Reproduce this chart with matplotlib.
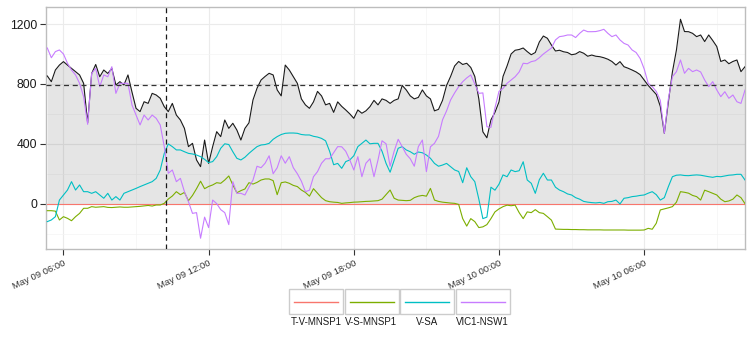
import numpy as np
import pandas as pd
import matplotlib
matplotlib.use("Agg")
import matplotlib.pyplot as plt
import matplotlib.dates as mdates
from matplotlib.patches import Rectangle

plt.rcParams['font.family'] = ['Liberation Sans', 'DejaVu Sans']

# 10 minute readings, May 09 05:20 -> May 10 10:10
times = pd.date_range("2016-05-09 05:20", periods=174, freq="10min")

total = [853, 815, 893, 926, 949, 926, 904, 882, 860, 804,
         540, 870, 930, 848, 893, 870, 904, 793, 815, 793,
         860, 745, 637, 615, 681, 670, 737, 726, 704, 648,
         615, 670, 592, 559, 503, 381, 403, 292, 247, 425,
         269, 381, 481, 448, 559, 503, 537, 492, 425, 503,
         540, 693, 771, 826, 850, 871, 860, 760, 720, 926,
         893, 848, 804, 700, 660, 637, 680, 750, 720, 660,
         670, 610, 680, 650, 626, 600, 570, 626, 604, 620,
         648, 690, 660, 700, 690, 670, 690, 700, 790, 760,
         720, 700, 710, 760, 720, 700, 620, 630, 690, 790,
         850, 920, 950, 930, 938, 910, 850, 700, 480, 440,
         560, 610, 680, 850, 920, 1000, 1025, 1030, 1040, 1016,
         995, 1010, 1080, 1120, 1105, 1060, 1020, 1025, 1015, 1010,
         995, 1000, 1016, 1005, 985, 993, 985, 982, 975, 965,
         950, 926, 949, 915, 905, 893, 880, 862, 826, 790,
         760, 730, 650, 470, 680, 880, 1027, 1232, 1150, 1149,
         1138, 1116, 1127, 1083, 1127, 1090, 1050, 950, 960, 935,
         950, 960, 882, 915]

tv_mnsp1 = [0] * 174

vs_mnsp1 = [-47, -47, -50, -109, -87, -98, -114, -87, -65, -31,
            -31, -20, -24, -22, -20, -25, -26, -24, -22, -24,
            -24, -22, -20, -18, -15, -12, -16, -9, -9, 2,
            31, 51, 80, 60, 75, 20, 55, 100, 150, 100,
            115, 125, 140, 136, 158, 185, 125, 73, 87, 98,
            140, 131, 142, 158, 165, 165, 154, 60, 140, 145,
            136, 122, 114, 91, 75, 50, 100, 70, 40, 20,
            13, 10, 8, 2, 5, 7, 10, 11, 13, 15,
            16, 18, 20, 30, 60, 91, 36, 24, 22, 20,
            22, 40, 50, 55, 50, 102, 24, 15, 10, 7,
            4, 2, -5, -100, -150, -100, -120, -160, -155, -140,
            -100, -55, -35, -20, -10, -14, -10, -60, -100, -55,
            -60, -40, -60, -65, -87, -110, -170, -171, -172, -172,
            -173, -173, -174, -174, -175, -175, -175, -175, -176, -176,
            -176, -176, -176, -176, -177, -177, -177, -177, -176, -165,
            -171, -131, -42, -35, -28, -20, 10, 80, 76, 70,
            55, 47, 24, 90, 80, 69, 58, 30, 13, 18,
            30, 58, 40, 0]

v_sa = [-120, -109, -87, 24, 58, 91, 147, 91, 125, 80,
        80, 69, 80, 58, 36, 69, 24, 47, 24, 69,
        80, 91, 102, 114, 125, 136, 147, 169, 225, 336,
        399, 381, 359, 359, 347, 336, 332, 325, 314, 296,
        274, 281, 314, 370, 400, 395, 347, 303, 292, 310,
        336, 359, 381, 392, 395, 403, 430, 448, 462, 470,
        472, 472, 470, 462, 459, 459, 450, 445, 436, 420,
        350, 260, 269, 236, 281, 292, 320, 381, 403, 425,
        400, 403, 403, 350, 269, 210, 290, 370, 381, 359,
        347, 330, 345, 340, 325, 303, 269, 250, 258, 269,
        247, 225, 215, 140, 240, 180, 147, 30, -100, -90,
        110, 90, 130, 192, 180, 225, 214, 220, 280, 158,
        136, 69, 160, 203, 158, 158, 110, 91, 80, 65,
        58, 40, 30, 15, 10, 7, 5, 8, 2, 13,
        15, 24, -2, 36, 40, 47, 50, 55, 58, 70,
        80, 60, 24, 40, 114, 180, 190, 192, 188, 187,
        190, 192, 190, 185, 180, 176, 182, 180, 185, 190,
        192, 196, 196, 158]

vic1_nsw1 = [1040, 975, 1016, 1027, 1000, 938, 893, 860, 804, 715,
             530, 870, 904, 782, 860, 848, 915, 737, 804, 804,
             804, 659, 592, 526, 592, 559, 592, 570, 526, 381,
             203, 225, 147, 169, 80, 13, -65, -60, -231, -90,
             -160, 24, 0, -40, -60, -140, 147, 69, 69, 58,
             110, 158, 250, 240, 270, 320, 200, 240, 320, 270,
             314, 240, 200, 150, 80, 90, 180, 214, 270, 300,
             300, 340, 381, 380, 350, 292, 225, 314, 180, 270,
             300, 180, 292, 420, 400, 250, 350, 430, 381, 330,
             300, 250, 381, 425, 214, 380, 403, 450, 560, 620,
             693, 740, 782, 815, 840, 860, 800, 737, 740, 514,
             510, 640, 750, 770, 804, 826, 848, 880, 938, 935,
             949, 955, 975, 1000, 1020, 1040, 1094, 1116, 1120, 1127,
             1127, 1110, 1138, 1160, 1149, 1149, 1150, 1156, 1165, 1138,
             1116, 1127, 1094, 1071, 1060, 1027, 1010, 970, 900, 804,
             782, 750, 690, 470, 700, 848, 882, 960, 871, 904,
             882, 893, 880, 826, 782, 815, 760, 715, 748, 704,
             726, 681, 670, 759]

names = ["T-V-MNSP1", "V-S-MNSP1", "V-SA", "VIC1-NSW1"]
colors = ["#F8766D", "#7CAE00", "#00BFC4", "#C77CFF"]
series = [tv_mnsp1, vs_mnsp1, v_sa, vic1_nsw1]

limit_level = 790
event_time = pd.Timestamp("2016-05-09 10:14")

fig = plt.figure(figsize=(7.54, 3.46), dpi=100)
ax = fig.add_axes([45.7 / 754, 1 - 249 / 346, (745 - 45.7) / 754, (249 - 7) / 346])

ax.fill_between(times, 0, total, color="black", alpha=0.1, lw=0, zorder=2)
ax.plot(times, total, color="#1a1a1a", lw=0.8, zorder=3)
for s, c in zip(series, colors):
    ax.plot(times, s, color=c, lw=0.8, zorder=4)

ax.axhline(limit_level, color="#333333", lw=0.9, ls=(0, (4, 3)), zorder=5)
ax.axvline(event_time, color="#1a1a1a", lw=0.9, ls=(0, (4, 3)), zorder=5)

ax.set_xlim(pd.Timestamp("2016-05-09 05:16"), pd.Timestamp("2016-05-10 10:10"))
ax.set_ylim(-303, 1314)

ax.set_yticks([0, 400, 800, 1200])
ax.set_yticks([-200, 200, 600, 1000], minor=True)
ax.xaxis.set_major_locator(mdates.HourLocator(byhour=[0, 6, 12, 18]))
ax.xaxis.set_minor_locator(mdates.HourLocator(byhour=[3, 9, 15, 21]))
ax.xaxis.set_major_formatter(mdates.DateFormatter("%b %d %H:%M"))

ax.grid(True, which="major", color="#ebebeb", lw=0.8, zorder=0)
ax.grid(True, which="minor", color="#f4f4f4", lw=0.5, zorder=0)
ax.set_axisbelow(True)

for sp in ax.spines.values():
    sp.set_color("#bdbdbd")
    sp.set_linewidth(1.0)

ax.tick_params(which="major", length=4, width=0.8, color="#333333",
               labelsize=8.7, labelcolor="#1a1a1a", pad=2)
ax.tick_params(which="minor", length=0)
ax.tick_params(axis="x", labelsize=6.8, labelcolor="#333333", pad=3)
for lab in ax.get_xticklabels():
    lab.set_rotation(25)
    lab.set_ha("right")
    lab.set_rotation_mode("anchor")

# legend drawn ggplot style: keys with labels underneath
lax = fig.add_axes([0, 0, 1, 1])
lax.set_xlim(0, 754)
lax.set_ylim(346, 0)
lax.axis("off")
key_w, key_h = 54, 25
x0 = 289
for i, (n, c) in enumerate(zip(names, colors)):
    kx = x0 + i * (key_w + 1.5)
    lax.add_patch(Rectangle((kx, 289), key_w, key_h, facecolor="white",
                            edgecolor="#cccccc", lw=1.0))
    lax.plot([kx + 5, kx + key_w - 5], [289 + key_h / 2] * 2, color=c, lw=1.0)
    lax.text(kx + key_w / 2, 317, n, ha="center", va="top", fontsize=7, color="#1a1a1a")

fig.savefig("out.png", dpi=100)
